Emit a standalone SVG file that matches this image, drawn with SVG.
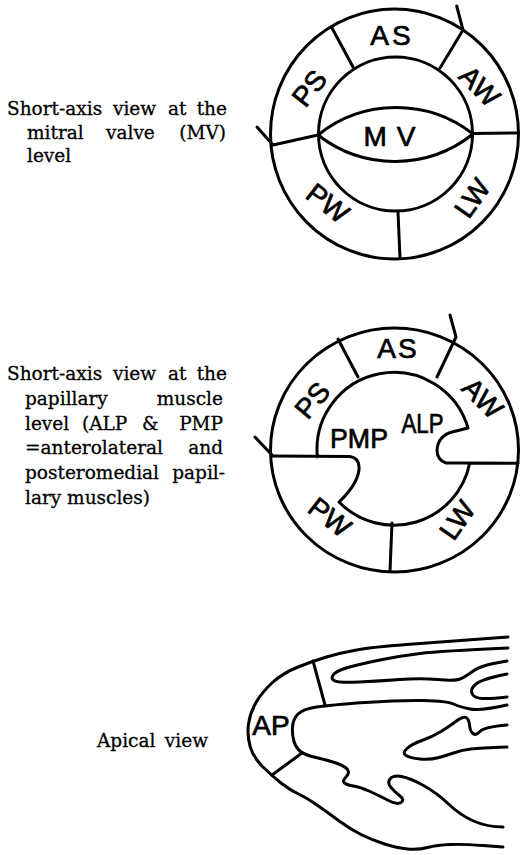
<svg xmlns="http://www.w3.org/2000/svg" width="520" height="855" viewBox="0 0 520 855">
  <style>
    .cap { font-family: "DejaVu Serif", "Liberation Serif", serif; font-size: 18.5px; fill: #000; stroke: #000; stroke-width: 0.3; }
    .end { text-anchor: end; }
    .seg { font-family: "Liberation Sans", Arial, sans-serif; font-size: 28px; fill: #000; stroke: #000; stroke-width: 0.7; text-anchor: middle; }
    .ln { fill: none; stroke: #000; stroke-width: 3; stroke-linecap: round; stroke-linejoin: round; }
  </style>
  <rect width="520" height="855" fill="#fff"/>

  <!-- Captions: justified lines set word by word (last word flush right) -->
  <g id="caption-mv">
    <text class="cap" y="115"><tspan x="7">Short-axis</tspan><tspan x="113">view</tspan><tspan x="168">at</tspan><tspan class="end" x="227">the</tspan></text>
    <text class="cap" y="139"><tspan x="27">mitral</tspan><tspan x="106">valve</tspan><tspan class="end" x="226">(MV)</tspan></text>
    <text class="cap" x="27" y="162">level</text>
  </g>
  <g id="caption-pm">
    <text class="cap" y="380"><tspan x="7">Short-axis</tspan><tspan x="113">view</tspan><tspan x="168">at</tspan><tspan class="end" x="227">the</tspan></text>
    <text class="cap" y="405"><tspan x="25">papillary</tspan><tspan class="end" x="223">muscle</tspan></text>
    <text class="cap" y="430"><tspan x="25">level</tspan><tspan x="82">(ALP</tspan><tspan x="142">&amp;</tspan><tspan class="end" x="223">PMP</tspan></text>
    <text class="cap" y="454"><tspan x="25">=anterolateral</tspan><tspan class="end" x="223">and</tspan></text>
    <text class="cap" y="479"><tspan x="25">posteromedial</tspan><tspan class="end" x="225">papil-</tspan></text>
    <text class="cap" x="25" y="504">lary muscles)</text>
  </g>
  <g id="caption-apical">
    <text class="cap" y="747"><tspan x="97">Apical</tspan><tspan class="end" x="208">view</tspan></text>
  </g>

  <!-- Short-axis view, mitral valve level -->
  <g id="sax-mv">
    <ellipse class="ln" cx="394.5" cy="134" rx="124" ry="125"/>
    <ellipse class="ln" cx="395.5" cy="134" rx="77" ry="77"/>
    <path class="ln" d="M318,135 A125,125 0 0,1 473,134 A125,125 0 0,1 318,135"/>
    <path class="ln" d="M257,127 L273,145 L318,135"/>
    <path class="ln" d="M456.7,6 L463,30 L440,68"/>
    <path class="ln" d="M332,28 L353,67"/>
    <path class="ln" d="M473,133.5 L518,133"/>
    <path class="ln" d="M398,212 L400,258"/>
    <text class="seg" x="392" y="45" letter-spacing="3">AS</text>
    <text class="seg" transform="translate(309,88) rotate(-52)" x="0" y="10">PS</text>
    <text class="seg" transform="translate(480,86) rotate(45)" x="0" y="10">AW</text>
    <text class="seg" transform="translate(328,203) rotate(38)" x="0" y="10">PW</text>
    <text class="seg" transform="translate(472,198) rotate(-55)" x="0" y="10">LW</text>
    <text class="seg" x="390" y="146" font-size="31" letter-spacing="1">M V</text>
  </g>

  <!-- Short-axis view, papillary muscle level -->
  <g id="sax-pm">
    <ellipse class="ln" cx="394.5" cy="450" rx="124" ry="122"/>
    <!-- endocardial border with both papillary muscles -->
    <path class="ln" d="M272,456 L350,456.5 Q360,458 359,470 Q357,485 339,502
                        A77,77 0 0,0 469.7,463
                        L518,463.3
                        M469.7,463 L446,463 Q437,460 437,450 Q438,436 452,432 L468,428
                        A77,77 0 0,0 317.4,457"/>
    <path class="ln" d="M255,437 L272,455"/>
    <path class="ln" d="M450,315 L456,337 L437,377"/>
    <path class="ln" d="M338,339 L358,377"/>
    <path class="ln" d="M392,523 L390,571"/>
    <text class="seg" x="398" y="358" font-size="29" letter-spacing="2">AS</text>
    <text class="seg" transform="translate(312,400) rotate(-50)" x="0" y="10">PS</text>
    <text class="seg" transform="translate(483,398) rotate(45)" x="0" y="10">AW</text>
    <text class="seg" transform="translate(330,517) rotate(38)" x="0" y="10">PW</text>
    <text class="seg" transform="translate(457,520) rotate(-55)" x="0" y="10">LW</text>
    <text class="seg" x="359" y="448" font-size="30" textLength="58" lengthAdjust="spacingAndGlyphs">PMP</text>
    <text class="seg" x="422.5" y="433" font-size="26" textLength="42" lengthAdjust="spacingAndGlyphs">ALP</text>
  </g>

  <!-- Apical view -->
  <g id="apical">
    <!-- outer epicardial contour -->
    <path class="ln" d="M508,637 Q440,642 406.5,644.5 Q373,647 356.5,650 Q340,653 326.5,657 Q313,661 298,667 Q283,673 272.5,682.5 Q262,692 256,702.5 Q250,713 248.5,724 Q247,735 250,746 Q253,757 262.5,766.5 Q272,776 281,783 Q290,790 298.5,794 Q307,798 317,805 Q327,812 338.5,820.5 Q350,829 361,834.5 Q372,840 384.5,844 Q397,848 407.5,849 Q418,850 427.5,847.5 Q437,845 450,844.5 Q463,844 483,845.5 L503,847"/>
    <!-- upper wall hairpin -->
    <path class="ln" d="M508,648 Q440,651 420,653.5 Q400,656 382.5,659.5 Q365,663 351.5,666.5 Q338,670 334,674 Q330,678 334,680.5 Q338,683 359,682 Q380,681 400,679.5 Q420,678 437.5,679.5 Q455,681 460,679 Q465,677 472.5,671.5 Q480,666 493.5,663.5 L507,661"/>
    <!-- small loop at the right -->
    <path class="ln" d="M507,674 Q482,679 476,684 Q470,689 472,693.5 Q474,698 482,698.5 Q490,699 507,697"/>
    <!-- cavity border -->
    <path class="ln" d="M507,705 Q480,711 470,709 Q460,707 453.5,704 Q447,701 423.5,700.5 Q400,700 365,702.5 Q330,705 316.5,707 Q303,709 298,714 Q293,719 292.5,727 Q292,735 294,741.5 Q296,748 300.5,751.5 Q305,755 316,757.5 Q327,760 336,763 Q345,766 347.5,769.5 Q350,773 346,777 Q342,781 344.5,783 Q347,785 353.5,786 Q360,787 370,791.5 Q380,796 388.5,800.5 Q397,805 401,802.5 Q405,800 400,796 Q395,792 391,787.5 Q387,783 390,779 Q393,775 401.5,776.5 Q410,778 423.5,785.5 Q437,793 448.5,804 Q460,815 473.5,821 Q487,827 503,827"/>
    <!-- valve leaflet -->
    <path class="ln" d="M507,725 Q484,727 480,731.5 Q476,736 473,733.5 Q470,731 469.5,725 Q469,719 466,717.5 Q463,716 456.5,721 Q450,726 441,731.5 Q432,737 422,740.5 Q412,744 407,748.5 Q402,753 406,755.5 Q410,758 420,759 Q430,760 439,757.5 Q448,755 455,752.5 Q462,750 471,749 Q480,748 507,747"/>
    <!-- apical segment borders -->
    <path class="ln" d="M313,661 L325,705"/>
    <path class="ln" d="M272,775 L302,753"/>
    <text class="seg" x="271" y="735">AP</text>
  </g>
</svg>
